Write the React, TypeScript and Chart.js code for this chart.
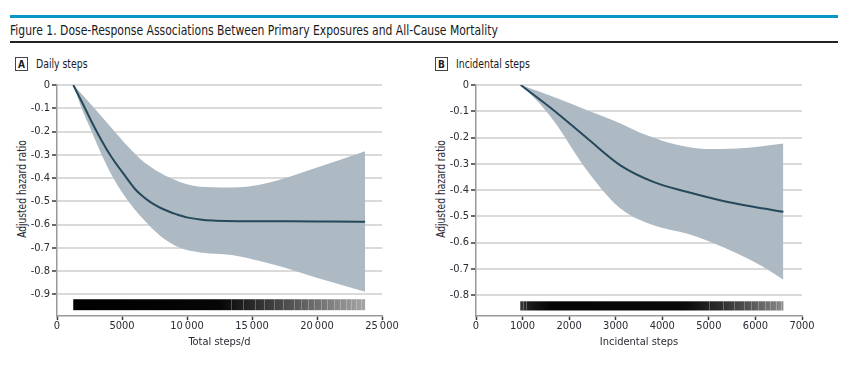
import React, { useEffect, useRef } from 'react';
import { Chart, registerables } from 'chart.js';

Chart.register(...registerables);

// ---------- Data ----------
// Panel A: Daily steps (x = total steps/d, y = adjusted hazard ratio)
const lineA: number[][] = [[1256, 0], [2154, -0.1], [3051, -0.2], [4077, -0.3], [5359, -0.4], [6000, -0.447], [6500, -0.474], [7026, -0.497], [7500, -0.514], [8100, -0.532], [8600, -0.544], [9205, -0.556], [10000, -0.569], [11000, -0.578], [12000, -0.583], [13000, -0.585], [15000, -0.586], [18000, -0.586], [21000, -0.587], [23700, -0.588]];
const upperA: number[][] = [[1256, 0], [2000, -0.045], [3000, -0.108], [4000, -0.172], [5000, -0.236], [5500, -0.267], [6000, -0.296], [6500, -0.322], [7000, -0.344], [7500, -0.363], [8000, -0.379], [8692, -0.399], [9500, -0.418], [10487, -0.433], [11500, -0.439], [12538, -0.441], [14000, -0.44], [15500, -0.43], [17500, -0.401], [20000, -0.355], [23700, -0.285]];
const lowerA: number[][] = [[1256, 0], [1897, -0.1], [2667, -0.2], [3436, -0.3], [4333, -0.4], [5487, -0.5], [7026, -0.6], [8200, -0.66], [9462, -0.7], [11000, -0.72], [12538, -0.727], [13560, -0.732], [15600, -0.757], [17670, -0.788], [19970, -0.829], [23700, -0.889]];
const xTicksA = [0, 5000, 10000, 15000, 20000, 25000];
const xTickLabelsA = ['0', '5000', '10\u2009000', '15\u2009000', '20\u2009000', '25\u2009000'];
const yTicksA = [0, -0.1, -0.2, -0.3, -0.4, -0.5, -0.6, -0.7, -0.8, -0.9];
const yRangeA = [-0.993, 0];
const xRangeA = [0, 25000];
const rugRangeA = [1250, 23700];
const rugBandA = [-0.921, -0.968];
const rugStopsA: [number, string][] = [[1250, '#000000'], [12500, '#060606'], [14500, '#222222'], [17000, '#444444'], [19500, '#686868'], [21500, '#868686'], [23700, '#a5a5a5']];
const rugGapsA = [13400, 14300, 15200, 15900, 16700, 17400, 18200, 18800, 19300, 19800, 20300, 20800, 21300, 21800, 22200, 22600, 23000, 23400];

// Panel B: Incidental steps
const lineB: number[][] = [[960, 0], [1660, -0.095], [2375, -0.201], [3092, -0.305], [3808, -0.369], [4524, -0.407], [5240, -0.439], [5955, -0.464], [6600, -0.483]];
const upperB: number[][] = [[960, 0], [1660, -0.045], [2375, -0.095], [3092, -0.146], [3500, -0.18], [3808, -0.2], [4100, -0.218], [4524, -0.235], [5025, -0.244], [5598, -0.242], [6100, -0.234], [6600, -0.223]];
const lowerB: number[][] = [[960, 0], [1300, -0.058], [1660, -0.134], [2375, -0.324], [2899, -0.437], [3236, -0.488], [3808, -0.534], [4524, -0.566], [5025, -0.597], [5598, -0.641], [6170, -0.693], [6600, -0.742]];
const xTicksB = [0, 1000, 2000, 3000, 4000, 5000, 6000, 7000];
const xTickLabelsB = ['0', '1000', '2000', '3000', '4000', '5000', '6000', '7000'];
const yTicksB = [0, -0.1, -0.2, -0.3, -0.4, -0.5, -0.6, -0.7, -0.8];
const yRangeB = [-0.88, 0];
const xRangeB = [0, 7000];
const rugRangeB = [950, 6600];
const rugBandB = [-0.824, -0.859];
const rugStopsB: [number, string][] = [[950, '#3a3a3a'], [1150, '#1a1a1a'], [1600, '#050505'], [4500, '#0a0a0a'], [5200, '#2a2a2a'], [5800, '#505050'], [6300, '#727272'], [6600, '#8c8c8c']];
const rugGapsB = [1000, 1080, 5000, 5300, 5550, 5750, 5900, 6050, 6200, 6320, 6450, 6550];

// ---------- Styles ----------
const FONT = "'Liberation Sans Narrow', 'DejaVu Sans Condensed', 'Arial Narrow', sans-serif";
const BAND = '#adbac4';
const LINE = '#25485a';
const GRID = '#dadada';
const AXIS = '#9a9a9a';
const TICK = '#3a3a3a';
const TEXT = '#2b2b35';

const toPts = (arr: number[][]) => arr.map(([x, y]) => ({ x, y }));

interface PanelProps {
  line: number[][]; upper: number[][]; lower: number[][];
  xTicks: number[]; xTickLabels: string[]; yTicks: number[];
  yRange: number[]; xRange: number[];
  rugRange: number[]; rugBand: number[]; rugStops: [number, string][]; rugGaps: number[];
  xTitle: string; yAxisWidth: number; padRight: number;
  style: React.CSSProperties;
}

function Panel(p: PanelProps) {
  const ref = useRef<HTMLCanvasElement | null>(null);
  useEffect(() => {
    if (!ref.current) return;
    const rugPlugin = {
      id: 'rug',
      afterDatasetsDraw(chart: any) {
        const { ctx, scales } = chart;
        const xs = scales.x, ys = scales.y;
        const x0 = xs.getPixelForValue(p.rugRange[0]);
        const x1 = xs.getPixelForValue(p.rugRange[1]);
        const y0 = ys.getPixelForValue(p.rugBand[0]);
        const y1 = ys.getPixelForValue(p.rugBand[1]);
        const g = ctx.createLinearGradient(x0, 0, x1, 0);
        p.rugStops.forEach(([v, c]) => {
          const t = (xs.getPixelForValue(v) - x0) / (x1 - x0);
          g.addColorStop(Math.min(1, Math.max(0, t)), c);
        });
        ctx.save();
        ctx.fillStyle = g;
        ctx.fillRect(x0, y0, x1 - x0, y1 - y0);
        ctx.strokeStyle = 'rgba(255,255,255,0.28)';
        ctx.lineWidth = 1;
        p.rugGaps.forEach((v) => {
          const x = Math.round(xs.getPixelForValue(v)) + 0.5;
          ctx.beginPath();
          ctx.moveTo(x, y0);
          ctx.lineTo(x, y1);
          ctx.stroke();
        });
        ctx.restore();
      },
    };
    const chart = new Chart(ref.current, {
      type: 'line',
      data: {
        datasets: [
          { data: toPts(p.line), borderColor: LINE, borderWidth: 2, pointRadius: 0, fill: false, cubicInterpolationMode: 'monotone' },
          { data: toPts(p.upper), borderWidth: 0, borderColor: 'rgba(0,0,0,0)', backgroundColor: BAND, pointRadius: 0, fill: '+1', cubicInterpolationMode: 'monotone' },
          { data: toPts(p.lower), borderWidth: 0, borderColor: 'rgba(0,0,0,0)', pointRadius: 0, fill: false, cubicInterpolationMode: 'monotone' },
        ],
      } as any,
      options: {
        animation: false,
        responsive: false,
        maintainAspectRatio: false,
        layout: { padding: { left: 0, right: p.padRight, top: 10, bottom: 0 } },
        plugins: { legend: { display: false }, tooltip: { enabled: false } },
        scales: {
          x: {
            type: 'linear',
            min: p.xRange[0], max: p.xRange[1],
            afterBuildTicks: (s: any) => { s.ticks = p.xTicks.map((v) => ({ value: v })); },
            afterFit: (s: any) => { s.height = 49; },
            ticks: {
              autoSkip: false, maxRotation: 0, padding: 1,
              color: TEXT, font: { family: FONT, size: 11, lineHeight: 1 },
              callback: (_v: any, i: number) => p.xTickLabels[i],
            },
            grid: { drawOnChartArea: false, drawTicks: true, tickLength: 4, tickColor: TICK, tickWidth: 1.5 },
            border: { display: true, color: AXIS, width: 1.5 },
            title: { display: true, text: p.xTitle, color: TEXT, font: { family: FONT, size: 11, lineHeight: 1.2 }, padding: { top: 0, bottom: 16 } },
          },
          y: {
            type: 'linear',
            min: p.yRange[0], max: p.yRange[1],
            afterBuildTicks: (s: any) => { s.ticks = p.yTicks.map((v) => ({ value: v })); },
            afterFit: (s: any) => { s.width = p.yAxisWidth; },
            ticks: {
              padding: 2, color: TEXT, font: { family: FONT, size: 11 },
              callback: (v: any) => (v === 0 ? '0' : Number(v).toFixed(1)),
            },
            grid: { color: GRID, lineWidth: 2, drawTicks: true, tickLength: 5, tickColor: TICK, tickWidth: 1.5 },
            border: { display: true, color: AXIS, width: 1.5 },
          },
        },
      } as any,
      plugins: [rugPlugin],
    });
    return () => chart.destroy();
  }, []);
  const w = Number(p.style.width), h = Number(p.style.height);
  return <canvas ref={ref} width={w} height={h} style={{ position: 'absolute', display: 'block', ...p.style }} />;
}

function PanelLabel({ letter, text, left }: { letter: string; text: string; left: number }) {
  return (
    <div style={{ position: 'absolute', left, top: 57, height: 14, display: 'flex', alignItems: 'center', fontFamily: FONT, color: '#1a1a1a' }}>
      <div style={{ boxSizing: 'border-box', width: 13, height: 14, border: '1px solid #444', fontWeight: 700, fontSize: 10, display: 'flex', alignItems: 'center', justifyContent: 'center' }}>{letter}</div>
      <span style={{ marginLeft: 8, fontSize: 11.5, display: 'inline-block', transform: 'scaleX(0.9)', transformOrigin: 'left center', whiteSpace: 'nowrap' }}>{text}</span>
    </div>
  );
}

function YTitle({ text, cx, cy }: { text: string; cx: number; cy: number }) {
  return (
    <div style={{ position: 'absolute', left: cx - 80, top: cy - 8, width: 160, height: 16, lineHeight: '16px', textAlign: 'center', transform: 'rotate(-90deg) scaleX(0.88)', fontFamily: FONT, fontSize: 11.5, color: TEXT, whiteSpace: 'nowrap' }}>{text}</div>
  );
}

export default function App() {
  return (
    <div style={{ position: 'absolute', left: 0, top: 0, width: 846, height: 365, background: '#fff', overflow: 'hidden' }}>
      <div style={{ position: 'absolute', left: 10, top: 15, width: 828, height: 3, background: '#0497c7' }} />
      <div style={{ position: 'absolute', left: 10, top: 21, height: 18, lineHeight: '18px', fontFamily: FONT, fontSize: 13.5, color: '#1a1a1a', whiteSpace: 'nowrap', transform: 'scaleX(0.89)', transformOrigin: 'left center' }}>
        Figure 1. Dose-Response Associations Between Primary Exposures and All-Cause Mortality
      </div>
      <div style={{ position: 'absolute', left: 10, top: 41, width: 828, height: 1.5, background: '#222' }} />
      <PanelLabel letter="A" text="Daily steps" left={15} />
      <PanelLabel letter="B" text="Incidental steps" left={435} />
      <YTitle text="Adjusted hazard ratio" cx={22} cy={189} />
      <YTitle text="Adjusted hazard ratio" cx={441} cy={189} />
      <Panel line={lineA} upper={upperA} lower={lowerA} xTicks={xTicksA} xTickLabels={xTickLabelsA} yTicks={yTicksA}
        yRange={yRangeA} xRange={xRangeA} rugRange={rugRangeA} rugBand={rugBandA} rugStops={rugStopsA} rugGaps={rugGapsA}
        xTitle="Total steps/d" yAxisWidth={57} padRight={38} style={{ left: 0, top: 75, width: 420, height: 290 }} />
      <Panel line={lineB} upper={upperB} lower={lowerB} xTicks={xTicksB} xTickLabels={xTickLabelsB} yTicks={yTicksB}
        yRange={yRangeB} xRange={xRangeB} rugRange={rugRangeB} rugBand={rugBandB} rugStops={rugStopsB} rugGaps={rugGapsB}
        xTitle="Incidental steps" yAxisWidth={56} padRight={44} style={{ left: 420, top: 75, width: 426, height: 290 }} />
    </div>
  );
}
